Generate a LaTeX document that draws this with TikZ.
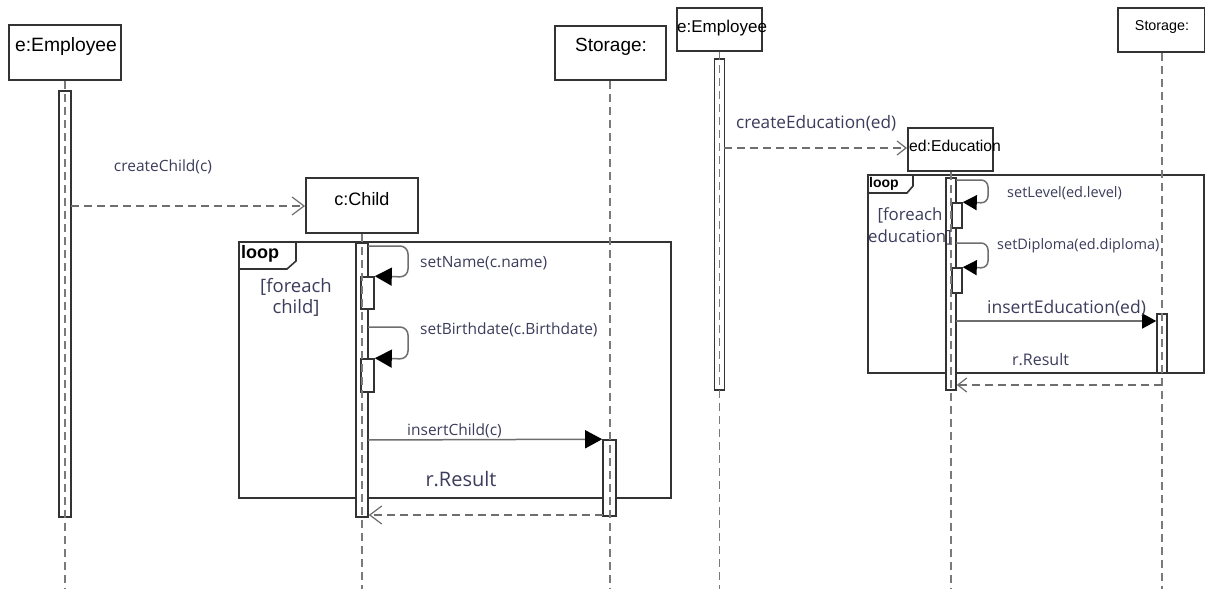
\documentclass[tikz,border=0pt]{standalone}
\usepackage{fontspec}
\setmainfont{Liberation Sans}
\newfontfamily\msgfont{Open Sans}
\usetikzlibrary{arrows.meta}
\definecolor{boxcol}{HTML}{333333}
\definecolor{lifecol}{HTML}{7A7A7A}
\definecolor{msgcol}{HTML}{6E6E6E}
\definecolor{labcol}{HTML}{3C3C5C}
\begin{document}
\begin{tikzpicture}[x=1pt,y=-1pt,
  objbox/.style={draw=boxcol,line width=2pt,fill=white,inner sep=0pt},
  objtext/.style={inner sep=0pt,text=black},
  actbar/.style={draw=boxcol,line width=1.6pt,fill=white,inner sep=0pt,minimum width=12pt},
  lifeline/.style={draw=lifecol,line width=1.6pt,dash pattern=on 8pt off 5pt},
  msgline/.style={draw=msgcol,line width=1.5pt},
  retline/.style={draw=msgcol,line width=1.5pt,dash pattern=on 8pt off 5pt},
  filltip/.style={-{Triangle[length=17pt,width=18pt,fill=black,color=black]}},
  filltipS/.style={-{Triangle[length=14pt,width=15pt,fill=black,color=black]}},
  opentip/.style={-{Straight Barb[length=12pt,width=18pt,line width=1.2pt]}},
  opentipS/.style={-{Straight Barb[length=9pt,width=14pt,line width=1.2pt]}},
  msglab/.style={inner sep=0pt,text=labcol,font=\msgfont},
  frame/.style={draw=boxcol,line width=1.6pt},
]
\useasboundingbox (0,0) rectangle (1205,589);
\fill[white] (0,0) rectangle (1205,589);

% ================= LEFT DIAGRAM =================
% loop frame
\draw[frame] (239,242) rectangle (671,498);
\draw[frame,fill=white] (239,242) -- (296,242) -- (296,261) -- (287,269) -- (239,269) -- cycle;
\node[inner sep=0pt,anchor=west,font=\bfseries\fontsize{18}{20}\selectfont] (loopA) at (241,254) {loop};
\node[msglab,font=\msgfont\fontsize{18.5}{21}\selectfont,align=center] (guardA) at (296,297) {[foreach\\child]};

% activation bars
\node[actbar,minimum height=426pt] (empAct) at (65,304) {};
\node[actbar,minimum height=274pt] (childAct) at (362,380) {};
\node[actbar,minimum width=13pt,minimum height=32pt] (sbA1) at (367.5,293) {};
\node[actbar,minimum width=13pt,minimum height=33pt] (sbA2) at (367.5,375.5) {};
\node[actbar,minimum width=13pt,minimum height=76pt] (storeAct) at (609.5,478) {};

% boxes
\node[objbox,minimum width=112pt,minimum height=55pt] (empBox) at (65,52.5) {};
\node[objtext,font=\fontsize{19.3}{21}\selectfont] (empTxt) at (66,47) {e:Employee};
\node[objbox,minimum width=112pt,minimum height=55pt] (childBox) at (362,205.5) {};
\node[objtext,font=\fontsize{18}{20}\selectfont] (childTxt) at (362,199) {c:Child};
\node[objbox,minimum width=111pt,minimum height=54pt] (storeBox) at (610.5,53) {};
\node[objtext,font=\fontsize{19}{21}\selectfont] (storeTxt) at (611,47) {Storage:};

% lifelines
\coordinate (empEnd) at (65,589);
\coordinate (childEnd) at (362,589);
\coordinate (storeEnd) at (610,589);
\draw[lifeline] (empBox.south) -- (empEnd);
\draw[lifeline] (childBox.south) -- (childEnd);
\draw[lifeline] (storeBox.south -| storeEnd) -- (storeEnd);

% createChild
\coordinate (cc1) at (71,206);
\draw[retline,opentip] (cc1) -- (childBox.west |- cc1);
\node[msglab,font=\msgfont\fontsize{15.5}{17}\selectfont] (ccLab) at (163,167) {createChild(c)};

% setName self call
\coordinate (sn1) at (368,246);
\coordinate (sn2) at (408,246);
\coordinate (sn3) at (408,277);
\draw[msgline,rounded corners=8pt,filltip] (sn1) -- (sn2) -- (sn3) -- (sbA1.north east);
\node[msglab,anchor=west,font=\msgfont\fontsize{15.5}{17}\selectfont] (snLab) at (420,263) {setName(c.name)};

% setBirthdate self call
\coordinate (sb1) at (368,327);
\coordinate (sb2) at (408,327);
\coordinate (sb3) at (408,359);
\draw[msgline,rounded corners=8pt,filltip] (sb1) -- (sb2) -- (sb3) -- (sbA2.north east);
\node[msglab,anchor=west,font=\msgfont\fontsize{15.5}{17}\selectfont] (sbLab) at (420,330) {setBirthdate(c.Birthdate)};

% insertChild
\coordinate (ic1) at (368,440);
\draw[msgline,filltip] (ic1) -- (storeAct.north west);
\node[msglab,anchor=west,font=\msgfont\fontsize{15.5}{17}\selectfont] (icLab) at (407,431) {insertChild(c)};

% return
\node[msglab,font=\msgfont\fontsize{20}{22}\selectfont] (rrLab) at (461,479) {r.Result};
\coordinate (rr1) at (603,515);
\draw[retline,opentip] (rr1) -- (childAct.east |- rr1);

% ================= RIGHT DIAGRAM =================
\draw[frame] (868,175) rectangle (1204,373);
\draw[frame,fill=white] (868,175) -- (913,175) -- (913,186) -- (907,193) -- (868,193) -- cycle;
\node[inner sep=0pt,anchor=west,font=\bfseries\fontsize{14}{16}\selectfont] (loopB) at (869,184) {loop};

\node[actbar,minimum width=10pt,minimum height=331pt] (emp2Act) at (719.5,224.5) {};
\node[actbar,minimum width=10pt,minimum height=212pt] (edAct) at (951,284) {};
\node[actbar,minimum width=10pt,minimum height=25pt] (sbB1) at (957,215.5) {};
\node[actbar,minimum width=10pt,minimum height=25pt] (sbB2) at (957,280.5) {};
\node[actbar,minimum width=10pt,minimum height=59pt] (store2Act) at (1162,343.5) {};

\node[objbox,minimum width=85pt,minimum height=43pt] (emp2Box) at (719.5,29.5) {};
\node[objtext,anchor=west,font=\fontsize{17}{19}\selectfont] (emp2Txt) at (677,28) {e:Employee};
\node[objbox,minimum width=85pt,minimum height=43pt] (edBox) at (950.5,149.5) {};
\node[objtext,anchor=west,font=\fontsize{15.7}{18}\selectfont] (edTxt) at (909,146) {ed:Education};
\node[objbox,minimum width=87pt,minimum height=44pt] (store2Box) at (1161.5,30) {};
\node[objtext,font=\fontsize{14.3}{16}\selectfont] (store2Txt) at (1162,27) {Storage:};

\coordinate (emp2End) at (719.5,589);
\coordinate (edEnd) at (951,589);
\coordinate (store2End) at (1162,589);
\draw[lifeline] (emp2Box.south) -- (emp2End);
\draw[lifeline] (edBox.south -| edEnd) -- (edEnd);
\draw[lifeline] (store2Box.south -| store2End) -- (store2End);

\node[msglab,font=\msgfont\fontsize{16.8}{22}\selectfont,align=center] (guardB) at (910,226) {[foreach\\education]};

% createEducation
\coordinate (ce1) at (724,148);
\draw[retline,opentipS] (ce1) -- (edBox.west |- ce1);
\node[msglab,anchor=west,font=\msgfont\fontsize{17.2}{19}\selectfont] (ceLab) at (736,123) {createEducation(ed)};

% setLevel
\coordinate (sl1) at (956,180);
\coordinate (sl2) at (988,180);
\coordinate (sl3) at (988,203);
\draw[msgline,rounded corners=7pt,filltipS] (sl1) -- (sl2) -- (sl3) -- (sbB1.north east);
\node[msglab,anchor=west,font=\msgfont\fontsize{14.5}{16}\selectfont] (slLab) at (1007,193) {setLevel(ed.level)};

% setDiploma
\coordinate (sd1) at (956,243);
\coordinate (sd2) at (988,243);
\coordinate (sd3) at (988,268);
\draw[msgline,rounded corners=7pt,filltipS] (sd1) -- (sd2) -- (sd3) -- (sbB2.north east);
\node[msglab,anchor=west,font=\msgfont\fontsize{14.5}{16}\selectfont] (sdLab) at (997,246) {setDiploma(ed.diploma)};

% insertEducation
\coordinate (ie1) at (956,321);
\draw[msgline,filltipS] (ie1) -- (store2Act.west |- ie1);
\node[msglab,anchor=west,font=\msgfont\fontsize{17.5}{19}\selectfont] (ieLab) at (987,308) {insertEducation(ed)};

% return
\node[msglab,anchor=west,font=\msgfont\fontsize{16}{18}\selectfont] (r2Lab) at (1012,360) {r.Result};
\coordinate (r2a) at (1162,385);
\draw[retline,opentipS] (r2a) -- (edAct.east |- r2a);

\end{tikzpicture}
\end{document}
